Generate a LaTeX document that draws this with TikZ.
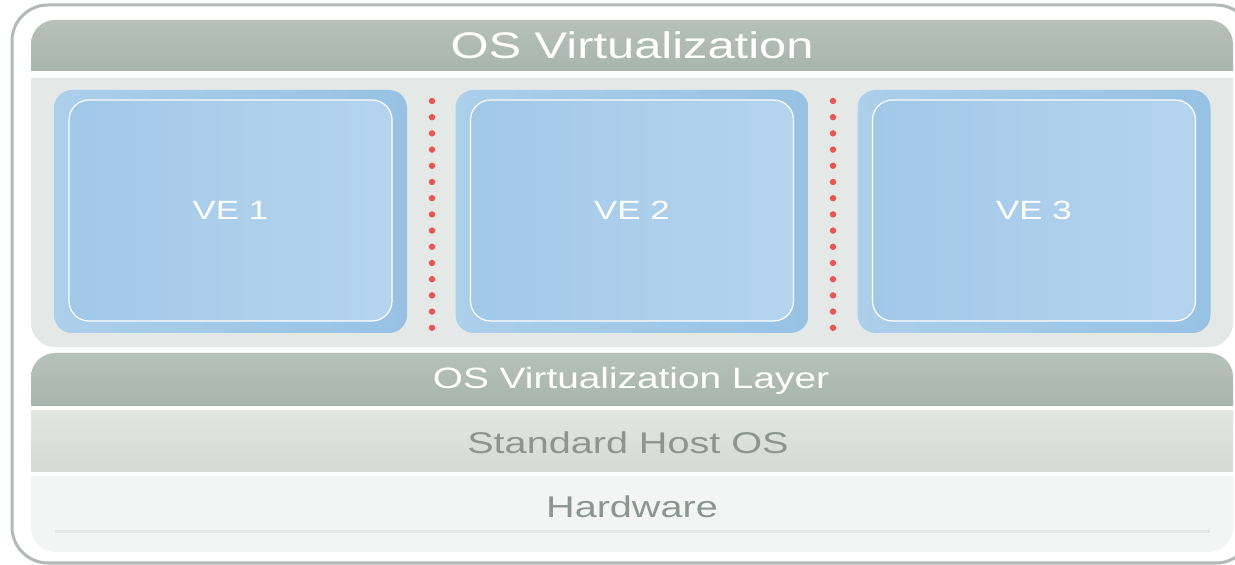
\documentclass[tikz,border=0pt]{standalone}
\usepackage{fontspec}
\setmainfont{Liberation Sans}[FakeStretch=1.32]
\usetikzlibrary{positioning}

\definecolor{frameline}{HTML}{B3B9B6}
\definecolor{bandtop}{HTML}{B7C1BB}
\definecolor{bandbot}{HTML}{A8B4AE}
\definecolor{panelgray}{HTML}{E4E9E7}
\definecolor{veleft}{HTML}{ACCFEB}
\definecolor{veright}{HTML}{97C2E4}
\definecolor{innleft}{HTML}{A2C8E8}
\definecolor{innright}{HTML}{B4D4EE}
\definecolor{hosttop}{HTML}{E1E6E3}
\definecolor{hostbot}{HTML}{D3DAD6}
\definecolor{hwgray}{HTML}{F3F5F4}
\definecolor{hwline}{HTML}{E2E7E4}
\definecolor{greytext}{HTML}{8C9691}
\definecolor{dotred}{HTML}{F0524D}

\begin{document}
\begin{tikzpicture}[
    x=0.5pt, y=-0.5pt,
    frame/.style={draw=frameline, line width=1.5pt, fill=white, rounded corners=18pt},
    darkband/.style={top color=bandtop, bottom color=bandbot},
    vebox/.style={rounded corners=9pt, left color=veleft, right color=veright,
        minimum width=176.5pt, minimum height=121.5pt},
    veinner/.style={draw=white, line width=0.6pt, rounded corners=10pt, left color=innleft,
        right color=innright, minimum width=161.5pt, minimum height=110.5pt,
        text=white, font=\fontsize{13.2}{16}\selectfont},
    bandtext/.style={font=\fontsize{15}{18}\selectfont}
]
    \useasboundingbox (0,0) rectangle (1235,565);

    % outer frame
    \path[frame] (12,5) rectangle (1252,563);

    % top banner and VE panel
    \path[darkband] (632,71) -- (31,71) [rounded corners=12pt] -- (31,20) -- (1233,20)
        [sharp corners] -- (1233,71) -- cycle;
    \node[text=white, font=\fontsize{18.5}{21}\selectfont] (title) at (632,45) {OS Virtualization};
    \path[fill=panelgray] (632,78) -- (1233,78) [rounded corners=12pt] -- (1233,347) -- (31,347)
        [sharp corners] -- (31,78) -- cycle;

    % the three VEs
    \foreach \i/\x in {1/230.5, 2/632, 3/1034} {
        \node[vebox] (ve\i) at (\x,211.5) {};
        \node[veinner] (inner\i) at (\x,210.5) {VE \i};
    }
    \foreach \x in {432, 833}
        \foreach \k in {0,...,14}
            \fill[dotred] (\x,101+16.2*\k) circle (1.6pt);

    % layers below
    \path[darkband] (632,406) -- (31,406) [rounded corners=12pt] -- (31,353) -- (1233,353)
        [sharp corners] -- (1233,406) -- cycle;
    \node[bandtext, text=white, font=\fontsize{14.7}{18}\selectfont] (vlayer) at (631,381) {OS Virtualization Layer};
    \path[top color=hosttop, bottom color=hostbot] (31,411) rectangle (1233,472);
    \node[bandtext, text=greytext] (hostos) at (628,443) {Standard Host OS};
    \path[fill=hwgray] (632,476) -- (1233,476) [rounded corners=12pt] -- (1233,552) -- (31,552)
        [sharp corners] -- (31,476) -- cycle;
    \draw[hwline, line width=1.5pt] (55,532) -- (1210,532);
    \node[bandtext, text=greytext] (hw) at (632,507) {Hardware};
\end{tikzpicture}
\end{document}
